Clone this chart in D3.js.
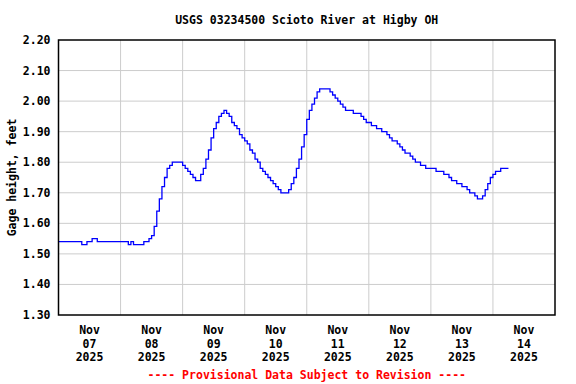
<!DOCTYPE html>
<html><head><meta charset="utf-8">
<script src="https://cdn.jsdelivr.net/npm/d3@7"></script>
<style>
html,body{margin:0;padding:0;background:#fff;}
svg text{font-family:"DejaVu Sans Mono","Liberation Mono",monospace;font-weight:bold;font-size:11.5px;}
</style></head>
<body>
<svg id="chart" width="576" height="384"></svg>
<script>
const titleText = "USGS 03234500 Scioto River at Higby OH";
const yAxisLabel = "Gage height, feet";
const footerText = "---- Provisional Data Subject to Revision ----";
const startTime = "2025-11-07T00:00:00Z";
const endTime = "2025-11-15T00:00:00Z";
const stepHours = 1;
const yTicks = [1.30, 1.40, 1.50, 1.60, 1.70, 1.80, 1.90, 2.00, 2.10, 2.20];
const dayLabels = [
  ["Nov","07","2025"],["Nov","08","2025"],["Nov","09","2025"],["Nov","10","2025"],
  ["Nov","11","2025"],["Nov","12","2025"],["Nov","13","2025"],["Nov","14","2025"]
];
// hourly gage height readings (feet), from Nov 07 00:00
const nov07 = [1.54,1.54,1.54,1.54,1.54,1.54,1.54,1.54,1.54,1.53,1.53,1.54,1.54,1.55,1.55,1.54,1.54,1.54,1.54,1.54,1.54,1.54,1.54,1.54];
const nov08 = [1.54,1.54,1.54,1.53,1.54,1.53,1.53,1.53,1.53,1.54,1.54,1.55,1.56,1.59,1.64,1.68,1.72,1.75,1.78,1.79,1.80,1.80,1.80,1.80];
const nov09 = [1.79,1.78,1.77,1.76,1.75,1.74,1.74,1.76,1.78,1.81,1.84,1.88,1.91,1.93,1.95,1.96,1.97,1.96,1.95,1.93,1.92,1.91,1.89,1.88];
const nov10 = [1.87,1.86,1.84,1.83,1.81,1.80,1.78,1.77,1.76,1.75,1.74,1.73,1.72,1.71,1.70,1.70,1.70,1.71,1.73,1.75,1.78,1.81,1.85,1.89];
const nov11 = [1.94,1.97,1.99,2.01,2.03,2.04,2.04,2.04,2.04,2.03,2.02,2.01,2.00,1.99,1.98,1.97,1.97,1.97,1.96,1.96,1.96,1.95,1.94,1.93];
const nov12 = [1.93,1.92,1.92,1.91,1.91,1.90,1.90,1.89,1.88,1.87,1.87,1.86,1.85,1.84,1.83,1.83,1.82,1.81,1.80,1.80,1.79,1.79,1.78,1.78];
const nov13 = [1.78,1.78,1.77,1.77,1.77,1.76,1.76,1.75,1.74,1.74,1.73,1.73,1.72,1.72,1.71,1.70,1.70,1.69,1.68,1.68,1.69,1.71,1.73,1.75];
const nov14 = [1.76,1.77,1.77,1.78,1.78,1.78,1.78];

const values = [].concat(nov07, nov08, nov09, nov10, nov11, nov12, nov13, nov14);
const t0 = new Date(startTime);
const data = values.map((v, i) => ({t: new Date(t0.getTime() + i * stepHours * 3600e3), v}));

const svg = d3.select("#chart");
const margin = {left: 58.5, right: 21, top: 40, bottom: 69};
const W = 576, H = 384;
const x = d3.scaleUtc().domain([new Date(startTime), new Date(endTime)]).range([margin.left, W - margin.right]);
const y = d3.scaleLinear().domain([1.30, 2.20]).range([H - margin.bottom, margin.top]);

// grid
const midnights = d3.utcDay.range(new Date(t0.getTime() + 86400e3), new Date(endTime));
svg.append("g").selectAll("line").data(midnights).join("line")
  .attr("x1", d => x(d)).attr("x2", d => x(d))
  .attr("y1", margin.top).attr("y2", H - margin.bottom)
  .attr("stroke", "#cccccc").attr("stroke-width", 1);
svg.append("g").selectAll("line").data(yTicks.slice(1, -1)).join("line")
  .attr("x1", margin.left).attr("x2", W - margin.right)
  .attr("y1", d => y(d)).attr("y2", d => y(d))
  .attr("stroke", "#cccccc").attr("stroke-width", 1);

// line
const line = d3.line().x(d => x(d.t)).y(d => y(d.v)).curve(d3.curveStepAfter);
svg.append("path").datum(data).attr("d", line)
  .attr("fill", "none").attr("stroke", "#0000ff").attr("stroke-width", 1.3);

// frame
svg.append("rect").attr("x", margin.left).attr("y", margin.top)
  .attr("width", W - margin.right - margin.left).attr("height", H - margin.bottom - margin.top)
  .attr("fill", "none").attr("stroke", "#000").attr("stroke-width", 1.5);

// y axis labels
svg.append("g").selectAll("text").data(yTicks).join("text")
  .attr("x", margin.left - 8).attr("y", d => y(d)).attr("dy", "0.35em")
  .attr("text-anchor", "end").attr("fill", "#000")
  .text(d => d3.format(".2f")(d));

// x axis labels
const noons = d3.utcDay.range(t0, new Date(endTime)).map(d => new Date(d.getTime() + 43200e3));
const xl = svg.append("g").selectAll("text").data(noons).join("text")
  .attr("text-anchor", "middle").attr("fill", "#000");
xl.each(function(d, i) {
  const el = d3.select(this);
  dayLabels[i].forEach((s, j) => {
    el.append("tspan").attr("x", x(d)).attr("y", 334 + j * 13.5).text(s);
  });
});

// title
svg.append("text").attr("x", (margin.left + W - margin.right) / 2).attr("y", 24)
  .attr("text-anchor", "middle").attr("fill", "#000").text(titleText);

// y label
svg.append("text").attr("transform", `translate(16,${(margin.top + H - margin.bottom) / 2}) rotate(-90)`)
  .attr("text-anchor", "middle").attr("fill", "#000").text(yAxisLabel);

// footer
svg.append("text").attr("x", (margin.left + W - margin.right) / 2).attr("y", 379)
  .attr("text-anchor", "middle").attr("fill", "#ff0000").text(footerText);
</script>
</body></html>
